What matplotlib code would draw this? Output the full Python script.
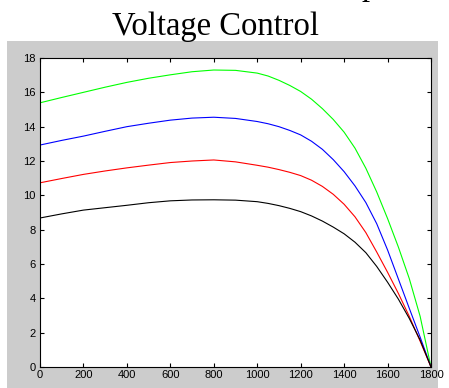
import numpy as np
import matplotlib.pyplot as plt
from matplotlib.patches import Rectangle

# speed values (x axis) and the four curves
speed = [0, 100, 200, 300, 400, 500, 600, 700, 800, 900, 1000,
         1050, 1100, 1150, 1200, 1250, 1300, 1350, 1400, 1450, 1500,
         1550, 1600, 1650, 1700, 1750, 1800]
green = [15.39, 15.70, 16.00, 16.30, 16.58, 16.82, 17.02, 17.20, 17.30, 17.28, 17.12,
         16.95, 16.70, 16.40, 16.05, 15.60, 15.05, 14.42, 13.68, 12.75, 11.58,
         10.20, 8.65, 6.98, 5.15, 2.95, 0.0]
blue = [12.93, 13.20, 13.45, 13.73, 14.00, 14.20, 14.38, 14.50, 14.55, 14.48, 14.30,
        14.17, 14.00, 13.78, 13.52, 13.15, 12.68, 12.08, 11.38, 10.55, 9.58,
        8.35, 6.82, 5.12, 3.42, 1.74, 0.0]
red = [10.73, 10.98, 11.22, 11.42, 11.60, 11.76, 11.91, 12.00, 12.06, 11.95, 11.75,
       11.64, 11.50, 11.34, 11.15, 10.88, 10.52, 10.06, 9.48, 8.75, 7.83,
       6.70, 5.52, 4.28, 2.95, 1.50, 0.0]
black = [8.68, 8.92, 9.14, 9.28, 9.42, 9.57, 9.68, 9.73, 9.74, 9.72, 9.63,
         9.53, 9.40, 9.24, 9.05, 8.80, 8.50, 8.15, 7.76, 7.27, 6.66,
         5.86, 4.94, 3.95, 2.83, 1.57, 0.0]

W, H = 449, 388
fig = plt.figure(figsize=(W / 100, H / 100), dpi=100)
fig.patch.set_facecolor('white')

# grey matlab figure area, kept behind the axes
bg = Rectangle((7 / W, 0), (438 - 7) / W, 1 - 41 / H, transform=fig.transFigure,
               facecolor='#cccccc', edgecolor='none', zorder=-10)
fig.add_artist(bg)

# title (first line is cut off at the top, only a descender shows)
fig.text(362 / W, 1 + 5 / H, 'p', family='Liberation Serif', fontsize=23.5,
         ha='left', va='baseline')
fig.text(215 / W, 1 - 35 / H, 'Voltage Control', family='Liberation Serif',
         fontsize=23.5, ha='center', va='baseline')

ax = fig.add_axes([40 / W, 1 - 367 / H, (431 - 40) / W, (367 - 58) / H])
ax.set_zorder(1)
ax.set_facecolor('white')

ax.plot(speed, green, color=(0, 1, 0), lw=0.8)
ax.plot(speed, blue, color=(0, 0, 1), lw=0.8)
ax.plot(speed, red, color=(1, 0, 0), lw=0.8)
ax.plot(speed, black, color='black', lw=0.8)

ax.set_xlim(0, 1800)
ax.set_ylim(0, 18)
ax.set_xticks(np.arange(0, 1801, 200))
ax.set_yticks(np.arange(0, 19, 2))
ax.tick_params(direction='in', length=3, width=0.8, top=True, right=True,
               labelsize=8, colors='black')
ax.tick_params(axis='x', pad=2.5)
ax.tick_params(axis='y', pad=3)
for lab in ax.get_xticklabels() + ax.get_yticklabels():
    lab.set_family('Liberation Sans')
for s in ax.spines.values():
    s.set_linewidth(0.8)

fig.savefig('out.png', dpi=100)
